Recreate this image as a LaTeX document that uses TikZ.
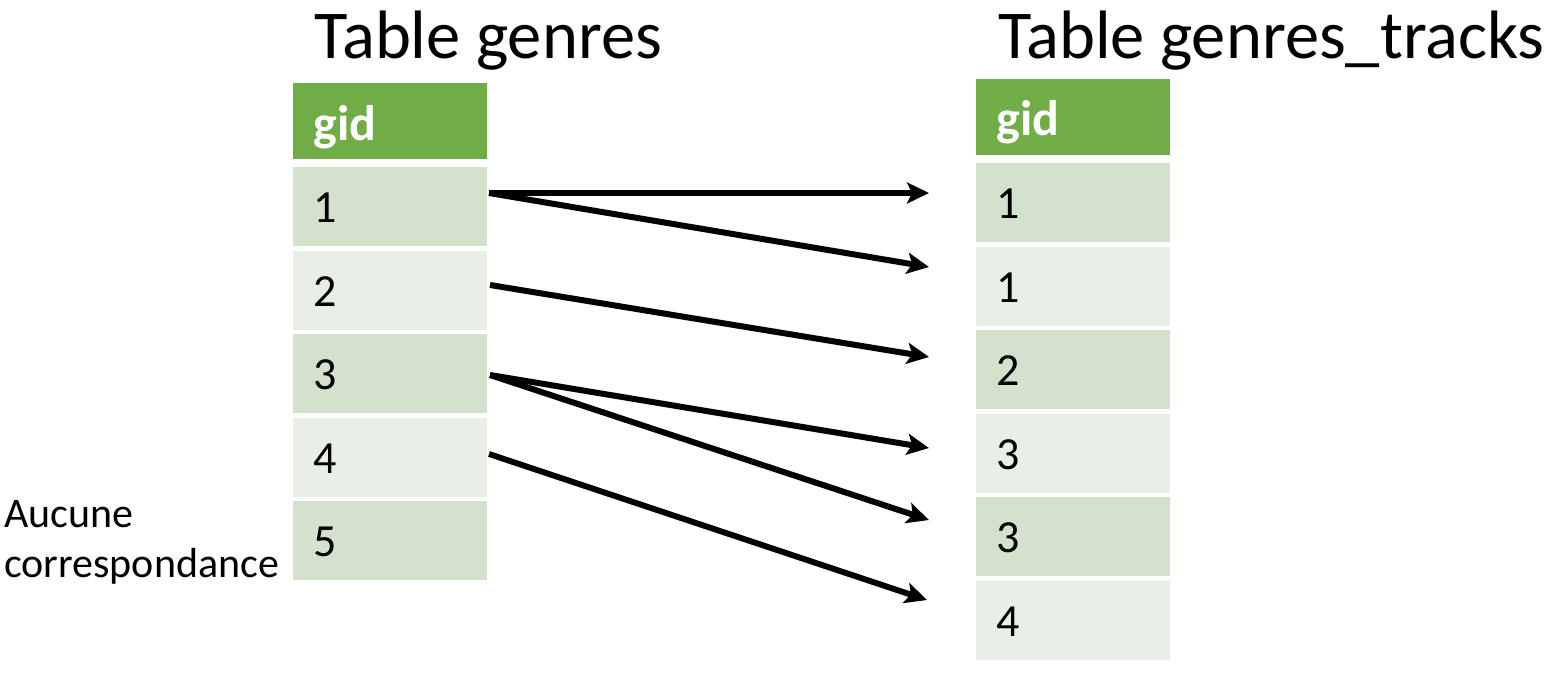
\documentclass[tikz,border=0pt]{standalone}
\usepackage{fontspec}
\setmainfont{Carlito}
\usetikzlibrary{arrows.meta}
\definecolor{hdrgreen}{HTML}{70AD47}
\definecolor{rowdark}{HTML}{D4E2CD}
\definecolor{rowlight}{HTML}{E9EFE6}
\tikzset{
  cell/.style={minimum width=194pt, minimum height=79pt, text width=153pt, inner xsep=20pt, inner ysep=0pt, align=left, font=\fontsize{46}{46}\selectfont, text=black, text height=32pt, text depth=0pt},
  hdr/.style={cell, fill=hdrgreen, minimum height=76pt, text=white, font=\fontsize{50}{50}\selectfont\bfseries, text height=44pt, text depth=6pt},
  dark/.style={cell, fill=rowdark},
  light/.style={cell, fill=rowlight},
  title/.style={anchor=base west, inner sep=0pt, font=\fontsize{68.5}{68.5}\selectfont},
  link/.style={line width=6pt, -{Stealth[length=22pt,width=21pt,inset=5pt]}},
}
\begin{document}
\begin{tikzpicture}[x=1pt,y=-1pt]
\useasboundingbox[fill=white] (0,0) rectangle (1556,688);
% titles
\node[title] (t1) at (314,58) {Table genres};
\node[title] (t2) at (998,58) {Table genres\_tracks};
% left table
\node[hdr]   (LH) at (390,121) {gid};
\node[dark]  (L1) at (390,206.5) {1};
\node[light] (L2) at (390,290) {2};
\node[dark]  (L3) at (390,373.5) {3};
\node[light] (L4) at (390,457) {4};
\node[dark]  (L5) at (390,540.5) {5};
% right table
\node[hdr]   (RH) at (1073,116.5) {gid};
\node[dark]  (R1) at (1073,202.5) {1};
\node[light] (R2) at (1073,286) {1};
\node[dark]  (R3) at (1073,369.5) {2};
\node[light] (R4) at (1073,453) {3};
\node[dark]  (R5) at (1073,536.5) {3};
\node[light] (R6) at (1073,620) {4};
% label
\node[anchor=north west, inner sep=0pt, align=left, font=\fontsize{42}{50}\selectfont] (note) at (4,500) {Aucune\\correspondance};
% arrow ends
\coordinate (s1) at (489,193);
\coordinate (s2) at (490,285);
\coordinate (s3) at (490,375);
\coordinate (s4) at (489,454);
\coordinate (e1) at (929,193);
\coordinate (e2) at (929,267);
\coordinate (e3) at (929,357);
\coordinate (e4) at (929,448);
\coordinate (e5) at (929,520);
\coordinate (e6) at (927,600);
\draw[link] (s1) -- (e1);
\draw[link] (s1) -- (e2);
\draw[link] (s2) -- (e3);
\draw[link] (s3) -- (e4);
\draw[link] (s3) -- (e5);
\draw[link] (s4) -- (e6);
\end{tikzpicture}
\end{document}
